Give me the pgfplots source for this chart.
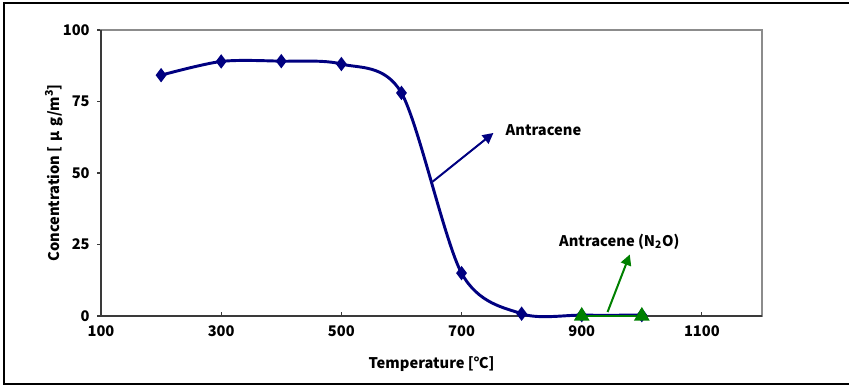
\documentclass[border=0pt]{standalone}
\usepackage{fontspec}
\setmainfont{Noto Sans CJK JP}
\usepackage{pgfplots}
\pgfplotsset{compat=1.18}
\usetikzlibrary{arrows.meta}

\definecolor{antblue}{HTML}{000080}
\definecolor{antgreen}{HTML}{008000}
\definecolor{boxgray}{HTML}{8C8C8C}
\definecolor{axisdark}{HTML}{3A3A3A}

\newcommand{\lblfont}{\bfseries\fontsize{11}{13}\selectfont}

\begin{document}
\begin{tikzpicture}[x=0.75pt,y=0.75pt]
\useasboundingbox (0,0) rectangle (849,386);
\begin{scope}
\clip (0,0) rectangle (849,386);
% chart frame
\draw[line width=1.5pt] (4,2) rectangle (860,383);
\end{scope}

\begin{axis}[
  at={(75.75pt,52.5pt)}, anchor=south west,
  scale only axis, width=495.75pt, height=214.5pt,
  xmin=100, xmax=1200, ymin=0, ymax=100,
  xtick={100,300,...,1100}, ytick={0,25,...,100},
  clip=false,
  axis line style={draw=boxgray, line width=1.2pt},
  tick style={draw=axisdark, line width=0.8pt},
  major tick length=3pt,
  tick pos=left,
  xtick align=inside, ytick align=outside,
  /pgf/number format/assume math mode=true,
  /pgf/number format/1000 sep={},
  ticklabel style={font=\lblfont},
  xticklabel style={yshift=-4pt},
  yticklabel style={xshift=-2pt},
  label style={font=\lblfont},
  xlabel={Temperature [℃]},
  ylabel={Concentration [\hspace{3.5pt}μ\hspace{4pt}g/m\raisebox{0.45em}{\fontsize{8}{9}\selectfont 3}]},
  xlabel style={at={(axis description cs:0.5,-0.168)}, anchor=center},
  ylabel style={at={(axis description cs:-0.0711,0.5)}, anchor=center},
]
% dark left and bottom axis lines
\draw[axisdark, line width=1.3pt] (axis cs:100,100) -- (axis cs:100,0) -- (axis cs:1200,0);

\addplot[color=antblue, line width=2.2pt, smooth, tension=0.5,
  mark=diamond*, mark size=3.6pt, mark options={solid, fill=antblue}]
  coordinates {(200,84.2) (300,89.0) (400,89.1) (500,88.1) (600,78.0) (700,15.0) (800,0.8) (900,0.3) (1000,0.3)};

\addplot[color=antgreen, line width=2.2pt,
  mark=triangle*, mark size=4.6pt, mark options={solid, fill=antgreen}]
  coordinates {(900,0) (1000,0)};

% callouts
\draw[antblue, line width=1.5pt, -{Triangle[length=8pt,width=8pt]}]
  (axis cs:652,47) -- (axis cs:753,64);
\node[anchor=west, font=\lblfont, inner sep=0pt] at (axis cs:773,65) {Antracene};

\draw[antgreen, line width=1.5pt, -{Triangle[length=8pt,width=8pt]}]
  (axis cs:943,1.4) -- (axis cs:980,21.5);
\node[anchor=west, font=\lblfont, inner sep=0pt] at (axis cs:862,26) {Antracene (N\textsubscript{2}O)};
\end{axis}
\end{tikzpicture}
\end{document}
